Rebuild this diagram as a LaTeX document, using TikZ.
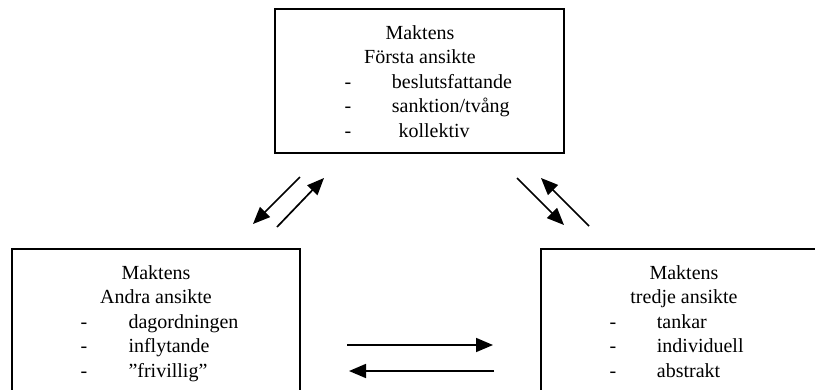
\documentclass[tikz,border=0pt]{standalone}
\usepackage{fontspec}
\setmainfont{Liberation Serif}
\usetikzlibrary{arrows.meta}
\tikzset{
  facebox/.style={draw, line width=1.6pt, rectangle, inner sep=0pt},
  txt/.style={inner sep=0pt, anchor=base, font=\fontsize{20}{24}\selectfont},
  item/.style={inner sep=0pt, anchor=base west, font=\fontsize{20}{24}\selectfont},
  dashmark/.style={inner sep=0pt, anchor=base, font=\fontsize{20}{24}\selectfont},
  flow/.style={line width=1.7pt, -{Triangle[length=17pt,width=14pt]}}
}
\begin{document}
\begin{tikzpicture}[x=1pt,y=-1pt]
\useasboundingbox (0,0) rectangle (815,389);
\clip (0,0) rectangle (815,389);
\fill[white] (0,0) rectangle (815,389);
% boxes
\node[facebox, minimum width=289pt, minimum height=144pt] (top) at (419.5,81) {};
\node[facebox, minimum width=288pt, minimum height=160pt] (left) at (156,329) {};
\node[facebox, minimum width=286pt, minimum height=160pt] (right) at (684,329) {};
% top text
\node[txt] (t1) at (420,39) {Maktens};
\node[txt] (t2) at (420,63.5) {Första ansikte};
\node[dashmark] (td1) at (348,88) {-};
\node[item] (ti1) at (391.7,88) {beslutsfattande};
\node[dashmark] (td2) at (348,112.5) {-};
\node[item] (ti2) at (391.7,112.5) {sanktion/tvång};
\node[dashmark] (td3) at (348,137) {-};
\node[item] (ti3) at (398.3,137) {kollektiv};
% left text
\node[txt] (l1) at (156,279) {Maktens};
\node[txt] (l2) at (156,303.5) {Andra ansikte};
\node[dashmark] (ld1) at (84,328) {-};
\node[item] (li1) at (128.3,328) {dagordningen};
\node[dashmark] (ld2) at (84,352.5) {-};
\node[item] (li2) at (128.3,352.5) {inflytande};
\node[dashmark] (ld3) at (84,377) {-};
\node[item] (li3) at (128.3,377) {”frivillig”};
% right text
\node[txt] (r1) at (684,279) {Maktens};
\node[txt] (r2) at (684,303.5) {tredje ansikte};
\node[dashmark] (rd1) at (613,328) {-};
\node[item] (ri1) at (656.7,328) {tankar};
\node[dashmark] (rd2) at (613,352.5) {-};
\node[item] (ri2) at (656.7,352.5) {individuell};
\node[dashmark] (rd3) at (613,377) {-};
\node[item] (ri3) at (656.7,377) {abstrakt};
% arrow endpoints
\coordinate (a1s) at (300,177);
\coordinate (a1e) at (253,224);
\coordinate (a2s) at (277,227);
\coordinate (a2e) at (324,178);
\coordinate (a3s) at (517,178);
\coordinate (a3e) at (564,225);
\coordinate (a4s) at (589,226);
\coordinate (a4e) at (541,178);
\coordinate (a5s) at (347,345);
\coordinate (a5e) at (493,345);
\coordinate (a6s) at (494,371);
\coordinate (a6e) at (349,371);
\draw[flow] (a1s) -- (a1e);
\draw[flow] (a2s) -- (a2e);
\draw[flow] (a3s) -- (a3e);
\draw[flow] (a4s) -- (a4e);
\draw[flow] (a5s) -- (a5e);
\draw[flow] (a6s) -- (a6e);
\end{tikzpicture}
\end{document}
